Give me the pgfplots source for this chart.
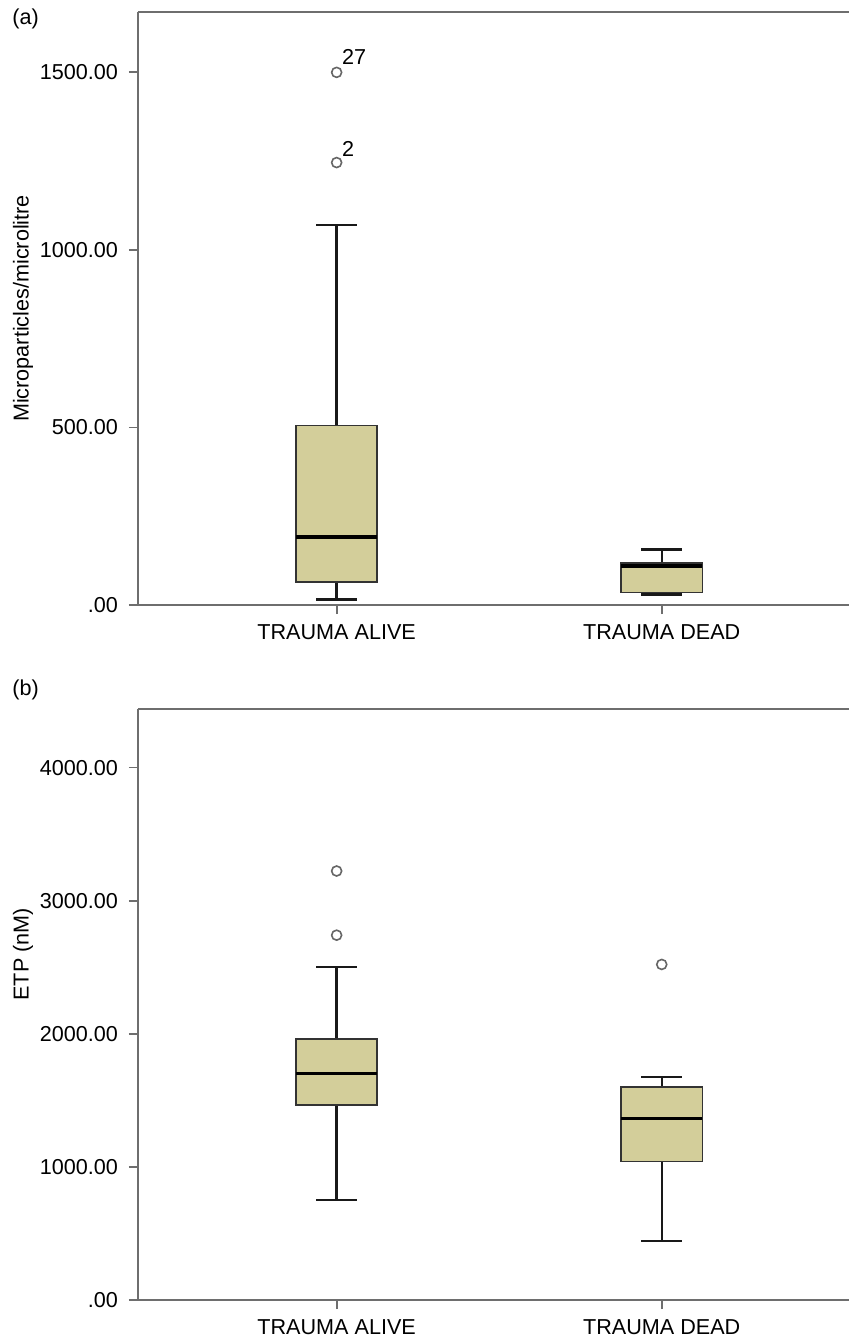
\documentclass[border=0pt]{standalone}
\usepackage{pgfplots}
\pgfplotsset{compat=1.18}
\usepgfplotslibrary{statistics}
\usepackage{fontspec}
\setmainfont{Liberation Sans}
\definecolor{boxfill}{RGB}{211,206,154}
\definecolor{axgray}{RGB}{110,110,110}
\pgfplotsset{
 mystyle/.style={
  scale only axis, width=355.5pt, height=296.5pt,
  axis x line*=box, axis y line*=left,
  axis line style={axgray, line width=1.1pt},
  xmin=0.389, xmax=2.576, ymin=0,
  xtick={1,2}, xticklabels={TRAUMA ALIVE,TRAUMA DEAD},
  xtick pos=left, ytick pos=left,
  tick align=outside, major tick length=4.5pt,
  tick style={axgray, line width=0.9pt},
  ticklabel style={font=\fontsize{10.8}{12}\selectfont},
  xticklabel style={yshift=-2pt},
  yticklabel style={xshift=-2pt},
  label style={font=\fontsize{10.8}{12}\selectfont},
  boxplot/draw direction=y,
  boxplot/box extend=0.25, boxplot/whisker extend=0.125,
  boxplot/every box/.style={draw=black!80, line width=0.8pt, fill=boxfill},
  boxplot/every whisker/.style={black!90, line width=1.2pt},
  boxplot/every median/.style={black, line width=1.8pt},
  clip=false,
 },
 outl/.style={draw=black, mark=o, mark size=2.5pt, mark options={draw=black!60, fill=white, line width=0.8pt}},
}
\begin{document}
\begin{tikzpicture}
\useasboundingbox[fill=white] (0,0) rectangle (424.5pt,-669.5pt);
\node[anchor=west, inner sep=0, font=\fontsize{10.8}{12}\selectfont] at (6pt,-9.5pt) {(a)};
\node[anchor=west, inner sep=0, font=\fontsize{10.8}{12}\selectfont] at (6pt,-345pt) {(b)};
\begin{axis}[mystyle, at={(69pt,-6pt)}, anchor=north west,
  ymax=1670, ytick={0,500,1000,1500}, yticklabels={.00,500.00,1000.00,1500.00},
  ylabel={Microparticles/microlitre},
  ylabel style={at={(axis description cs:-0.1617,0.5)}, anchor=center}]
\addplot[outl, boxplot prepared={lower whisker=16, lower quartile=64, median=191,
  upper quartile=506, upper whisker=1071, draw position=1}]
  table[row sep=\\, y index=0] {data\\ 1500\\ 1246\\};
\addplot[outl, boxplot prepared={lower whisker=30, lower quartile=35, median=110,
  upper quartile=119, upper whisker=156, draw position=2}]
  coordinates {};
\node[anchor=base west, inner sep=0, xshift=2.5pt, yshift=4pt, font=\fontsize{10.8}{12}\selectfont] at (axis cs:1,1500) {27};
\node[anchor=base west, inner sep=0, xshift=2.5pt, yshift=3pt, font=\fontsize{10.8}{12}\selectfont] at (axis cs:1,1246) {2};
\end{axis}
\begin{axis}[mystyle, at={(69pt,-354.5pt)}, anchor=north west, height=295.5pt,
  ymax=4440, ytick={0,1000,2000,3000,4000}, yticklabels={.00,1000.00,2000.00,3000.00,4000.00},
  ylabel={ETP (nM)},
  ylabel style={at={(axis description cs:-0.1617,0.585)}, anchor=center}]
\addplot[outl, boxplot prepared={lower whisker=752, lower quartile=1465, median=1703,
  upper quartile=1962, upper whisker=2500, draw position=1}]
  table[row sep=\\, y index=0] {data\\ 3223\\ 2741\\};
\addplot[outl, boxplot prepared={lower whisker=444, lower quartile=1041, median=1364,
  upper quartile=1600, upper whisker=1676, draw position=2}]
  table[row sep=\\, y index=0] {data\\ 2521\\};
\end{axis}
\end{tikzpicture}
\end{document}
